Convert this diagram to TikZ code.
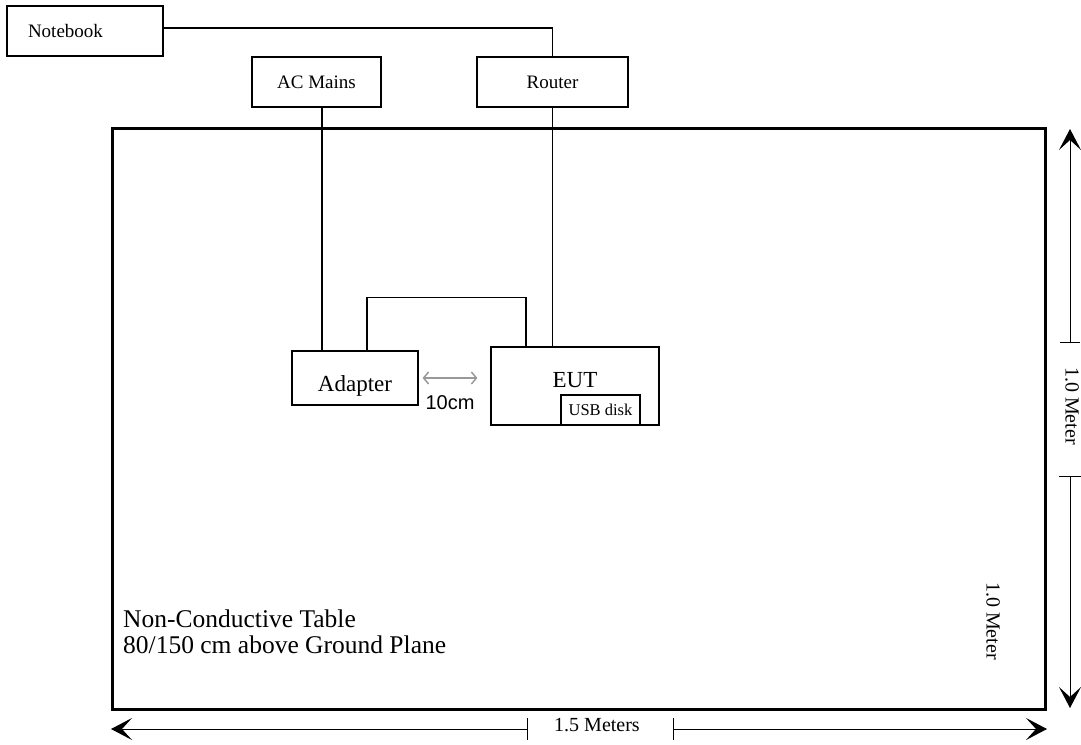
\documentclass[tikz,border=0pt]{standalone}
\usepackage{fontspec}
\setmainfont{Liberation Serif}
\newfontfamily\arialfont{Liberation Sans}
\usetikzlibrary{arrows.meta, positioning, calc}

\begin{document}
\begin{tikzpicture}[
  x=1pt, y=-1pt,
  box/.style={draw, line width=1.2pt, inner sep=0pt, font=\fontsize{19}{22}\selectfont},
  unit/.style={box, font=\fontsize{23}{27}\selectfont},
  unittxt/.style={inner sep=0pt, font=\fontsize{23}{27}\selectfont},
  tbl/.style={draw, line width=3pt, inner sep=0pt},
  wire/.style={line width=1.2pt},
  dimarr/.style={-{Stealth[length=21pt, width=22pt, inset=10pt]}, line width=1pt},
  tick/.style={line width=1pt},
  dimlbl/.style={inner sep=0pt, font=\fontsize{20}{24}\selectfont},
  gap/.style={{Straight Barb[length=5pt, width=12pt]}-{Straight Barb[length=5pt, width=12pt]},
              line width=1.5pt, color=gray!80},
]
\useasboundingbox (0,0) rectangle (1081,744);

%% Table
\node[tbl, minimum width=933pt, minimum height=581pt] (table) at (578.5,418.5) {};
\node[anchor=north west, inner sep=0pt, align=left, font=\fontsize{25.5}{25.5}\selectfont]
      (tbltxt) at (123,610) {Non-Conductive Table\\80/150 cm above Ground Plane};

%% Outside units
\node[box, minimum height=50pt, text width=114pt, inner xsep=21pt, align=left] (nb) at (85,31) {Notebook};
\node[box, minimum width=129pt, minimum height=50pt] (ac)     at (316.5,82) {AC Mains};
\node[box, minimum width=151pt, minimum height=50pt] (router) at (552.5,82) {Router};

%% Units on the table
\node[unit, minimum width=126pt, minimum height=54pt, text height=27pt, text depth=0pt]
      (adapter) at (355,378) {Adapter};
\node[unit, minimum width=168pt, minimum height=78pt] (eut) at (575,386) {};
\node[unittxt, below=26pt of eut.north] (euttxt) {EUT};
\node[box, font=\fontsize{16.5}{19}\selectfont, minimum width=79pt, minimum height=30pt,
      text depth=0pt, anchor=south east] (usb) at ([xshift=-19pt]eut.south east) {USB disk};

%% Wiring
\draw[wire] ([yshift=3pt]nb.east) -| (router.north);
\draw[wire] ([xshift=5.5pt]ac.south) -- ([xshift=5.5pt]ac.south |- adapter.north);
\draw[wire] (router.south) -- (router.south |- eut.north);
\draw[wire] ([xshift=12pt]adapter.north) -- ++(0,-53) -| ([xshift=-49pt]eut.north);

%% Spacing
\draw[gap] ([xshift=4pt]adapter.east) -- ([xshift=-13pt]adapter.east -| eut.west)
      node[midway, below=13pt, text=black, font=\arialfont\fontsize{20}{24}\selectfont] (gaplbl) {10cm};

%% Dimensions, right
\coordinate (vtop)  at (1070,129);
\coordinate (vbot)  at (1070,708);
\coordinate (vcut1) at (1070,342);
\coordinate (vcut2) at (1070,476);
\node[dimlbl, rotate=-90] (vlbl) at (1072,406) {1.0 Meter};
\draw[dimarr] (vcut1) -- (vtop);
\draw[dimarr] (vcut2) -- (vbot);
\draw[tick] ([xshift=-10pt]vcut1) -- ([xshift=10pt]vcut1);
\draw[tick] ([xshift=-11pt]vcut2) -- ([xshift=11pt]vcut2);

%% Dimensions, bottom
\coordinate (hleft)  at (111,729);
\coordinate (hright) at (1047,729);
\coordinate (hcut1)  at (527,729);
\coordinate (hcut2)  at (673,729);
\node[dimlbl] (hlbl) at (597,725) {1.5 Meters};
\draw[dimarr] (hcut1) -- (hleft);
\draw[dimarr] (hcut2) -- (hright);
\draw[tick] ([yshift=-11pt]hcut1) -- ([yshift=11pt]hcut1);
\draw[tick] ([yshift=-11pt]hcut2) -- ([yshift=11pt]hcut2);

\node[dimlbl, rotate=-90] (tlbl) at (993,621) {1.0 Meter};

\end{tikzpicture}
\end{document}
